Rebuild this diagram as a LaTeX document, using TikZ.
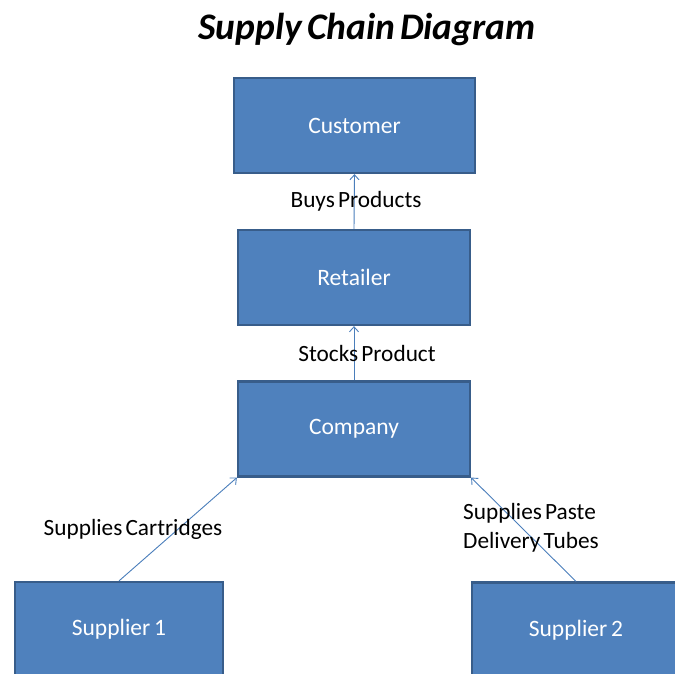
\documentclass[tikz,border=0pt]{standalone}
\usepackage{fontspec}
\setmainfont{Carlito}[WordSpace=0.6]
\usepackage{tikz}
\usepackage{xcolor}
\usetikzlibrary{positioning,shapes,arrows.meta}

\definecolor{boxfill}{HTML}{4F81BD}
\definecolor{boxline}{HTML}{385D8A}
\definecolor{linkline}{HTML}{4A7EBB}

\begin{document}
\begin{tikzpicture}[x=1pt,y=-1pt]
\tikzstyle{stage}=[draw=boxline,fill=boxfill,line width=2.2pt,text=white,minimum height=95pt,font=\fontsize{23.5}{28}\selectfont]
\tikzstyle{flow}=[draw=linkline,line width=0.9pt,-{Straight Barb[length=5pt,width=9pt]}]
\tikzstyle{lbl}=[inner sep=0pt,font=\fontsize{23.3}{29}\selectfont]
\useasboundingbox (0,0) rectangle (675,673);
% title
\node (title) at (367,29) {\fontsize{37.5}{45}\selectfont\bfseries\itshape Supply Chain Diagram};
% stages
\node [stage,minimum width=241pt] (cust) at (354.5,125.5) {Customer};
\node [stage,minimum width=232pt] (ret) at (354,277.5) {Retailer};
\node [stage,minimum width=232pt] (comp) at (354,429) {Company};
\node [stage,minimum width=208pt] (sup1) at (119,629.5) {Supplier\,1};
\node [stage,minimum width=208pt] (sup2) at (576,630) {Supplier\,2};
% links
\draw [flow] (ret.north) -- (cust.south);
\draw [flow] (comp.north) -- (ret.south);
\draw [flow] (sup1.north) -- (comp.south west);
\draw [flow] (sup2.north) -- (comp.south east);
% link labels
\node [lbl] (buys) at (356,201) {Buys Products};
\node [lbl] (stocks) at (367,353) {Stocks Product};
\node [lbl] (cart) at (133,529) {Supplies Cartridges};
\node [lbl,anchor=west,align=left] (paste) at (463,528) {Supplies Paste\\Delivery Tubes};
\end{tikzpicture}
\end{document}
